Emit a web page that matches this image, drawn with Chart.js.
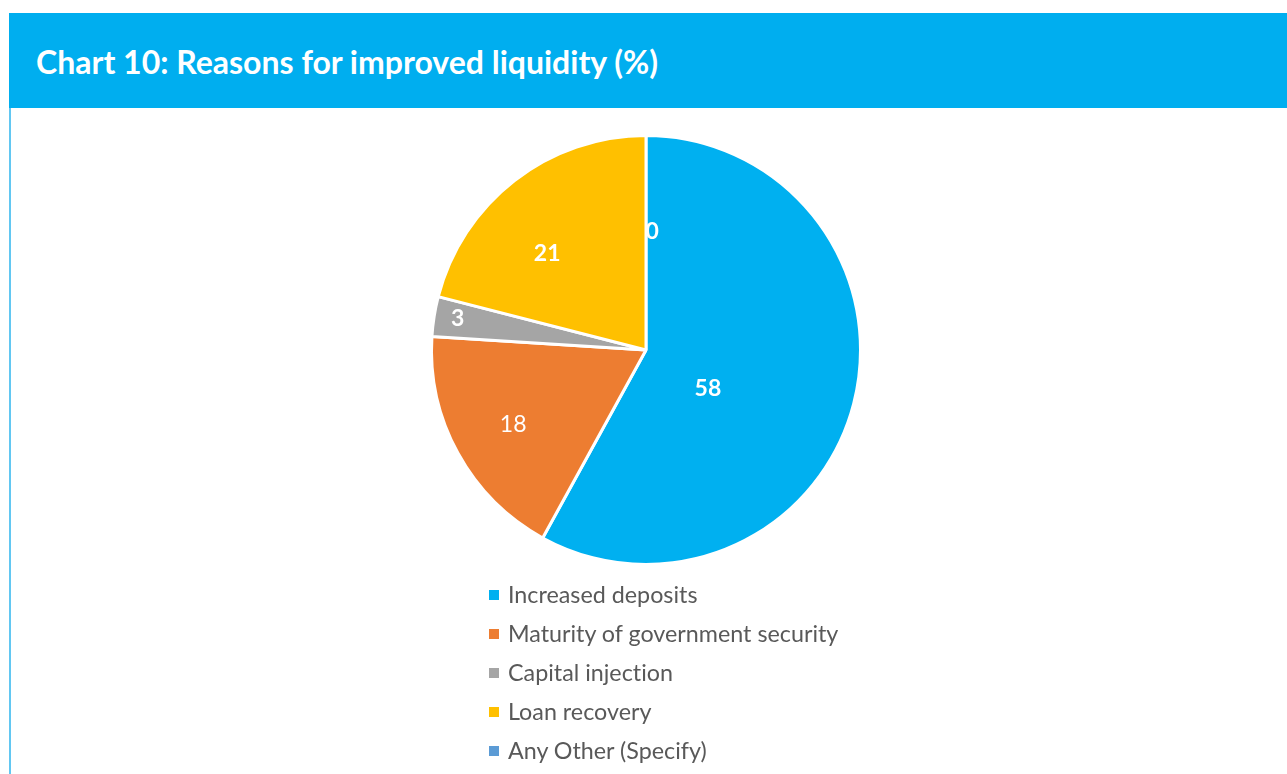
<!DOCTYPE html>
<html>
<head>
<meta charset="utf-8">
<script src="https://cdn.jsdelivr.net/npm/chart.js@4/dist/chart.umd.min.js"></script>
<style>
  html, body { margin: 0; padding: 0; background: #ffffff; width: 1287px; height: 774px; overflow: hidden; }
  body { position: relative; font-family: Lato, "Open Sans", sans-serif; font-variant-ligatures: none; font-feature-settings: "liga" 0; }
  #head {
    position: absolute; left: 9px; top: 13px; width: 1278px; height: 95px;
    background: #00AEEF; color: #ffffff;
  }
  #head h1 {
    margin: 0; position: absolute; left: 27px; top: 30px;
    font-family: Lato, sans-serif; font-weight: 700; font-size: 32px; line-height: 38px;
    letter-spacing: 0;
  }
  #rule { position: absolute; left: 9px; top: 108px; width: 2px; height: 666px; background: #62C7F2; }
  #wrap { position: absolute; left: 416px; top: 124px; width: 460px; height: 452px; }
  #legend { position: absolute; left: 489px; top: 575px; list-style: none; margin: 0; padding: 0; }
  #legend li {
    height: 39px; line-height: 39px; font-family: Lato, sans-serif; font-size: 23.3px; color: #595959;
    display: flex; align-items: center;
  }
  #legend li span.sw { display: inline-block; width: 10px; height: 10px; margin-right: 9px; }
</style>
</head>
<body>
<div id="head"><h1>Chart 10: Reasons for improved liquidity (%)</h1></div>
<div id="rule"></div>
<div id="wrap"><canvas id="pie"></canvas></div>
<ul id="legend"></ul>
<script>
// Reasons for improved liquidity, share of respondents (%)
const categories = [
  "Increased deposits",
  "Maturity of government security",
  "Capital injection",
  "Loan recovery",
  "Any Other (Specify)"
];
const shares = [58, 18, 3, 21, 0];
const sliceColors = ["#00B0F0", "#ED7D31", "#A5A5A5", "#FFC000", "#5B9BD5"];

// Where each value label sits inside its slice: angle shift (deg) from slice middle and radius fraction
const labelPlacement = [
  { shift: 17.5, r: 0.34, bold: true },
  { shift: -0.5, r: 0.71, bold: false },
  { shift: 0.4, r: 0.89, bold: true },
  { shift: -7.8, r: 0.645, bold: true },
  { shift: 3, r: 0.555, bold: true }
];

const valueLabels = {
  id: "valueLabels",
  afterDatasetsDraw(chart) {
    const ctx = chart.ctx;
    const meta = chart.getDatasetMeta(0);
    ctx.save();
    ctx.fillStyle = "#ffffff";
    ctx.textAlign = "center";
    ctx.textBaseline = "middle";
    meta.data.forEach((arc, i) => {
      const p = arc.getProps(["x", "y", "startAngle", "endAngle", "outerRadius"], true);
      const place = labelPlacement[i];
      const mid = (p.startAngle + p.endAngle) / 2 + place.shift * Math.PI / 180;
      const rr = p.outerRadius * place.r;
      const x = p.x + Math.cos(mid) * rr;
      const y = p.y + Math.sin(mid) * rr;
      ctx.font = (place.bold ? "700 " : "400 ") + "23px Lato, sans-serif";
      ctx.fillText(String(shares[i]), x, y);
    });
    ctx.restore();
  }
};

new Chart(document.getElementById("pie"), {
  type: "pie",
  data: {
    labels: categories,
    datasets: [{
      data: shares,
      backgroundColor: sliceColors,
      borderColor: "#ffffff",
      borderWidth: 3
    }]
  },
  options: {
    responsive: true,
    maintainAspectRatio: false,
    animation: false,
    layout: { padding: 10 },
    plugins: {
      legend: { display: false },
      tooltip: { enabled: false }
    }
  },
  plugins: [valueLabels]
});

// Vertical legend built from the same categories and colours
const legend = document.getElementById("legend");
categories.forEach((name, i) => {
  const li = document.createElement("li");
  const sw = document.createElement("span");
  sw.className = "sw";
  sw.style.background = sliceColors[i];
  li.appendChild(sw);
  li.appendChild(document.createTextNode(name));
  legend.appendChild(li);
});
</script>
</body>
</html>
